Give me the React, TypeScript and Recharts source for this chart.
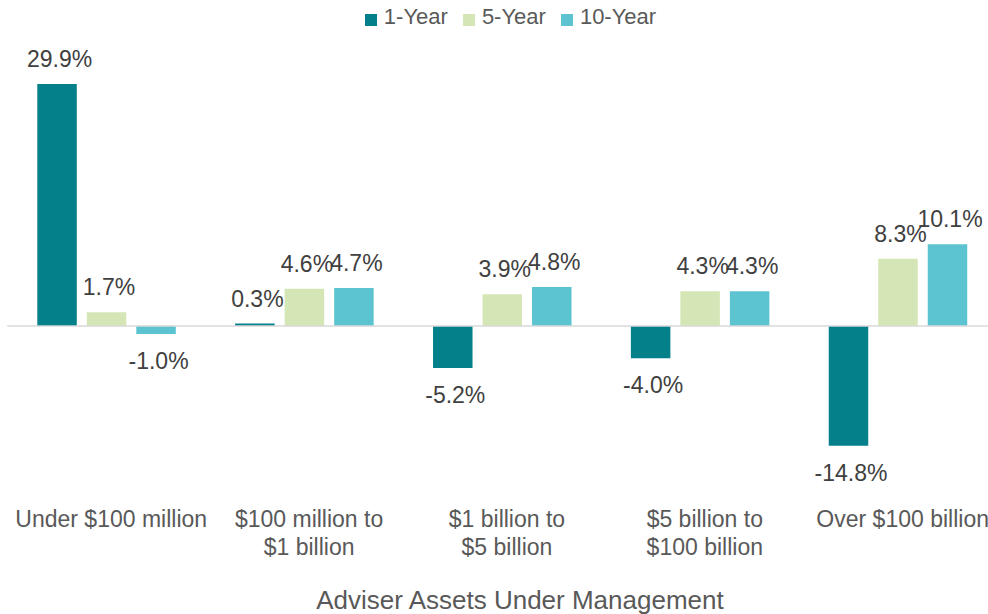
import React from "react";
import {
  Bar,
  BarChart,
  Label,
  LabelList,
  Legend,
  ReferenceLine,
  XAxis,
  YAxis,
} from "recharts";

const categories = [
  "Under $100 million",
  "$100 million to\n$1 billion",
  "$1 billion to\n$5 billion",
  "$5 billion to\n$100 billion",
  "Over $100 billion",
];

const oneYear = [29.9, 0.3, -5.2, -4.0, -14.8];
const fiveYear = [1.7, 4.6, 3.9, 4.3, 8.3];
const tenYear = [-1.0, 4.7, 4.8, 4.3, 10.1];

const seriesNames = ["1-Year", "5-Year", "10-Year"];
const seriesColors = ["#04808a", "#d4e6b5", "#5bc4d0"];

const FONT = '"Liberation Sans", Arial, Helvetica, sans-serif';

const data = categories.map((name, i) => ({
  name,
  oneYear: oneYear[i],
  fiveYear: fiveYear[i],
  tenYear: tenYear[i],
}));

// value label above positive bars, below negative ones
const renderValueLabel = (props: any) => {
  const vb = props.viewBox || props;
  const x = Number(vb.x);
  const y = Number(vb.y);
  const width = Number(vb.width);
  const height = Number(vb.height);
  const value = Number(props.value);
  const top = Math.min(y, y + height);
  const bottom = Math.max(y, y + height);
  const ty = value >= 0 ? top - 17 : bottom + 35;
  return (
    <text
      x={x + width / 2 + 2.5}
      y={ty}
      textAnchor="middle"
      fill="#404040"
      fontSize={23}
      fontFamily={FONT}
    >
      {value.toFixed(1) + "%"}
    </text>
  );
};

const renderTick = (props: any) => {
  const { x, y, payload } = props;
  const lines = String(payload.value).split("\n");
  return (
    <text
      x={x + 5}
      y={y + 55.4}
      textAnchor="middle"
      fill="#595959"
      fontSize={23}
      fontFamily={FONT}
    >
      {lines.map((line, i) => (
        <tspan key={i} x={x + 5} dy={i === 0 ? 0 : 28}>
          {line}
        </tspan>
      ))}
    </text>
  );
};

const renderLegend = () => (
  <div
    style={{
      display: "flex",
      justifyContent: "center",
      alignItems: "center",
      height: 30,
      paddingTop: 3,
      paddingLeft: 21,
      fontFamily: FONT,
      fontSize: 22,
      color: "#595959",
      boxSizing: "border-box",
    }}
  >
    {seriesNames.map((name, i) => (
      <div
        key={name}
        style={{
          display: "flex",
          alignItems: "center",
          marginRight: i < seriesNames.length - 1 ? 15 : 0,
        }}
      >
        <span
          style={{
            display: "inline-block",
            width: 12,
            height: 12,
            background: seriesColors[i],
            marginRight: 7,
            marginTop: 6,
          }}
        />
        <span>{name}</span>
      </div>
    ))}
  </div>
);

export default function App() {
  return (
    <div
      style={{
        position: "fixed",
        left: 0,
        top: 0,
        width: 988,
        height: 614,
        overflow: "hidden",
        background: "#fff",
      }}
    >
      <BarChart
        width={1000}
        height={614}
        data={data}
        margin={{ top: 4.6, right: 3.4, left: 7.3, bottom: 0 }}
        barSize={39.5}
        barGap={10}
      >
        <Legend
          verticalAlign="top"
          align="center"
          height={30}
          content={renderLegend}
          wrapperStyle={{ top: 0, left: 0, width: 1000 }}
        />
        <YAxis hide domain={[-18, 36]} />
        <XAxis
          dataKey="name"
          axisLine={false}
          tickLine={false}
          tickSize={0}
          tickMargin={0}
          height={142.4}
          interval={0}
          tick={renderTick}
        >
          <Label
            value="Adviser Assets Under Management"
            position="insideBottom"
            offset={5.4}
            dx={18}
            fill="#595959"
            fontSize={26}
            fontFamily={FONT}
          />
        </XAxis>
        <ReferenceLine y={0} stroke="#d9d9d9" strokeWidth={1.5} />
        <Bar dataKey="oneYear" fill={seriesColors[0]} isAnimationActive={false}>
          <LabelList dataKey="oneYear" content={renderValueLabel} />
        </Bar>
        <Bar dataKey="fiveYear" fill={seriesColors[1]} isAnimationActive={false}>
          <LabelList dataKey="fiveYear" content={renderValueLabel} />
        </Bar>
        <Bar dataKey="tenYear" fill={seriesColors[2]} isAnimationActive={false}>
          <LabelList dataKey="tenYear" content={renderValueLabel} />
        </Bar>
      </BarChart>
    </div>
  );
}
